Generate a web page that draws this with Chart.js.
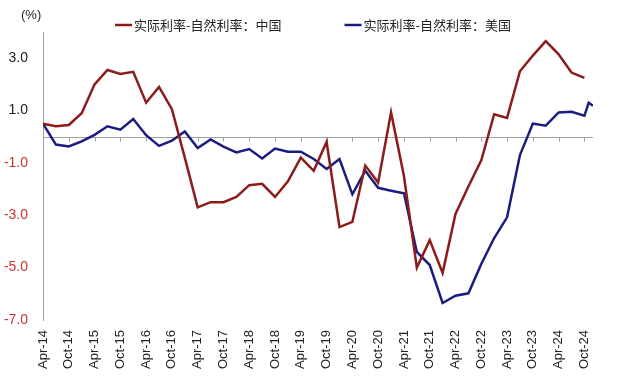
<!DOCTYPE html>
<html><head><meta charset="utf-8">
<script src="https://cdn.jsdelivr.net/npm/chart.js@4/dist/chart.umd.min.js"></script>
<style>html,body{margin:0;padding:0;background:#fff}#wrap{width:624px;height:387px;position:relative}</style>
</head><body><div id="wrap"><canvas id="c" width="624" height="387"></canvas></div>
<script>
const xTickLabels = ['Apr-14','Oct-14','Apr-15','Oct-15','Apr-16','Oct-16','Apr-17','Oct-17','Apr-18','Oct-18','Apr-19','Oct-19','Apr-20','Oct-20','Apr-21','Oct-21','Apr-22','Oct-22','Apr-23','Oct-23','Apr-24','Oct-24'];
const yTickValues = [-7, -5, -3, -1, 1, 3];
const unitLabel = '(%)';
const chinaSeriesName = '实际利率-自然利率：中国';
const usSeriesName = '实际利率-自然利率：美国';
const quarterPeriods = ['2014-04','2014-07','2014-10','2015-01','2015-04','2015-07','2015-10','2016-01','2016-04','2016-07','2016-10','2017-01','2017-04','2017-07','2017-10','2018-01','2018-04','2018-07','2018-10','2019-01','2019-04','2019-07','2019-10','2020-01','2020-04','2020-07','2020-10','2021-01','2021-04','2021-07','2021-10','2022-01','2022-04','2022-07','2022-10','2023-01','2023-04','2023-07','2023-10','2024-01','2024-04','2024-07','2024-10'];
const usExtraPeriods = ['2024-11','2024-12'];
const chinaValues = [0.5,0.4,0.45,0.9,2.0,2.55,2.4,2.48,1.3,1.9,1.05,-0.8,-2.7,-2.5,-2.5,-2.3,-1.85,-1.8,-2.3,-1.7,-0.8,-1.3,-0.2,-3.45,-3.25,-1.1,-1.75,0.93,-1.5,-5.0,-3.95,-5.2,-2.95,-1.9,-0.9,0.86,0.72,2.5,3.1,3.65,3.15,2.45,2.25];
const usValues = [0.5,-0.3,-0.37,-0.18,0.07,0.4,0.27,0.68,0.06,-0.35,-0.15,0.2,-0.43,-0.1,-0.38,-0.6,-0.47,-0.83,-0.45,-0.57,-0.57,-0.85,-1.23,-0.85,-2.2,-1.3,-1.95,-2.06,-2.16,-4.4,-4.9,-6.35,-6.07,-5.98,-4.86,-3.87,-3.08,-0.7,0.5,0.42,0.93,0.95,0.8,1.3,1.18];

const chinaColor = '#8c1c1c';
const usColor = '#1c1c80';
const negColor = '#cc3333';

function monthIndex(p) { const [yy, mm] = p.split('-').map(Number); return (yy - 2014) * 12 + (mm - 4); }
const usPeriods = quarterPeriods.concat(usExtraPeriods);
const chinaPoints = chinaValues.map((v, i) => ({x: monthIndex(quarterPeriods[i]), y: v}));
const usPoints = usValues.map((v, i) => ({x: monthIndex(usPeriods[i]), y: v}));

const decor = {
  id: 'decor',
  beforeDatasetsDraw(chart) {
    const {ctx, scales: {x, y}} = chart;
    const y0 = Math.round(y.getPixelForValue(0)) + 0.5;
    ctx.save();
    ctx.strokeStyle = '#a0a0a0'; ctx.lineWidth = 1;
    ctx.beginPath();
    ctx.moveTo(x.left, y0); ctx.lineTo(x.right, y0);
    x.ticks.forEach(t => {
      const px = Math.round(x.getPixelForValue(t.value)) + 0.5;
      ctx.moveTo(px, y0); ctx.lineTo(px, y0 + 4);
    });
    ctx.stroke();
    ctx.restore();
  },
  afterDraw(chart) {
    const {ctx} = chart;
    ctx.save();
    ctx.font = '13px "Liberation Sans", Arial, sans-serif';
    ctx.fillStyle = '#222'; ctx.textBaseline = 'middle'; ctx.textAlign = 'left';
    ctx.fillText(unitLabel, 21, 15);
    ctx.font = '13px "Noto Sans CJK SC", sans-serif';
    const items = [[chinaSeriesName, chinaColor], [usSeriesName, usColor]];
    const lineLen = 17, gapLT = 2, gapItems = 63;
    const widths = items.map(it => lineLen + gapLT + ctx.measureText(it[0]).width);
    const total = widths[0] + widths[1] + gapItems;
    let cx = (chart.width - total) / 2 + 1;
    const ly = 25;
    items.forEach((it, i) => {
      ctx.strokeStyle = it[1]; ctx.lineWidth = 2.5;
      ctx.beginPath(); ctx.moveTo(cx, ly); ctx.lineTo(cx + lineLen, ly); ctx.stroke();
      ctx.fillStyle = '#222';
      ctx.fillText(it[0], cx + lineLen + gapLT, ly);
      cx += widths[i] + gapItems;
    });
    ctx.restore();
  }
};

new Chart(document.getElementById('c'), {
  type: 'line',
  data: {
    datasets: [
      {label: chinaSeriesName, data: chinaPoints, borderColor: chinaColor, borderWidth: 2.5, pointRadius: 0, tension: 0, fill: false},
      {label: usSeriesName, data: usPoints, borderColor: usColor, borderWidth: 2.5, pointRadius: 0, tension: 0, fill: false}
    ]
  },
  options: {
    responsive: false, animation: false, devicePixelRatio: 1,
    layout: {padding: {top: 32, right: 31, left: 0, bottom: 0}},
    plugins: {legend: {display: false}, tooltip: {enabled: false}},
    scales: {
      x: {
        type: 'linear', min: 0, max: 128,
        afterBuildTicks: s => { s.ticks = xTickLabels.map((_, i) => ({value: i * 6})); },
        afterFit: s => { s.height = 67; },
        grid: {display: false, drawTicks: false, tickLength: 0}, border: {display: false},
        ticks: {
          autoSkip: false, minRotation: 90, maxRotation: 90, padding: 10,
          color: '#222', font: {family: '"Liberation Sans", Arial, sans-serif', size: 13},
          callback: v => xTickLabels[Math.round(v / 6)]
        }
      },
      y: {
        min: -7, max: 4,
        afterBuildTicks: s => { s.ticks = yTickValues.map(v => ({value: v})); },
        afterFit: s => { s.width = 43; },
        grid: {display: false, drawTicks: false, tickLength: 0},
        border: {display: true, color: '#a0a0a0', width: 1},
        ticks: {
          padding: 15,
          color: c => (c.tick && c.tick.value < 0) ? negColor : '#222',
          font: {family: '"Liberation Sans", Arial, sans-serif', size: 14},
          callback: v => v.toFixed(1)
        }
      }
    }
  },
  plugins: [decor]
});
</script></body></html>
